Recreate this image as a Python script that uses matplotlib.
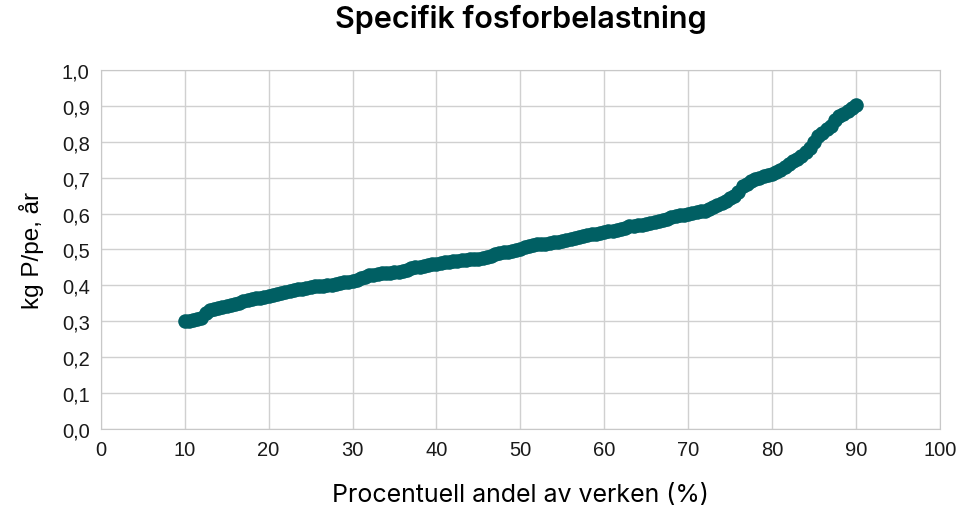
import matplotlib.pyplot as plt

# --------- DATA ---------
andel = [10 + 0.5 * i for i in range(161)]
belastning = [
    0.300, 0.300, 0.302, 0.305, 0.310, 0.322, 0.330, 0.333, 0.337, 0.340,
    0.343, 0.346, 0.349, 0.352, 0.355, 0.358, 0.361, 0.364, 0.366, 0.368,
    0.370, 0.372, 0.375, 0.378, 0.381, 0.384, 0.387, 0.389, 0.391, 0.393,
    0.395, 0.397, 0.398, 0.399, 0.400, 0.402, 0.404, 0.406, 0.408, 0.410,
    0.413, 0.416, 0.420, 0.424, 0.428, 0.430, 0.432, 0.433, 0.434, 0.435,
    0.436, 0.438, 0.441, 0.444, 0.447, 0.450, 0.452, 0.454, 0.456, 0.458,
    0.460, 0.462, 0.464, 0.466, 0.468, 0.469, 0.470, 0.471, 0.472, 0.473,
    0.474, 0.476, 0.478, 0.483, 0.488, 0.490, 0.492, 0.494, 0.496, 0.499,
    0.502, 0.506, 0.510, 0.512, 0.514, 0.515, 0.516, 0.518, 0.520, 0.522,
    0.524, 0.526, 0.528, 0.531, 0.534, 0.537, 0.540, 0.542, 0.544, 0.546,
    0.548, 0.550, 0.552, 0.555, 0.558, 0.561, 0.564, 0.566, 0.568, 0.569,
    0.571, 0.574, 0.577, 0.580, 0.583, 0.586, 0.589, 0.592, 0.595, 0.597,
    0.600, 0.602, 0.604, 0.606, 0.608, 0.613, 0.618, 0.624, 0.630, 0.636,
    0.642, 0.650, 0.660, 0.676, 0.683, 0.690, 0.695, 0.700, 0.704, 0.707,
    0.710, 0.716, 0.722, 0.730, 0.738, 0.745, 0.752, 0.760, 0.770, 0.782,
    0.800, 0.815, 0.825, 0.835, 0.845, 0.860, 0.872, 0.878, 0.885, 0.895,
    0.902,
]
yticks = [i / 10 for i in range(11)]
xticks = list(range(0, 101, 10))

# --------- PLOT ---------
fig = plt.figure(figsize=(9.6, 5.1), dpi=100)
ax = fig.add_axes([0.105, 0.157, 0.874, 0.704])

ax.scatter(andel, belastning, s=110, color="#005f63", zorder=3, linewidths=0)

ax.set_xlim(0, 100)
ax.set_ylim(0, 1.0)
ax.set_xticks(xticks)
ax.set_yticks(yticks)
ax.set_yticklabels([f"{v:.1f}".replace(".", ",") for v in yticks])
ax.grid(True, color="#d0d0d0", linewidth=1)
ax.set_axisbelow(True)
ax.tick_params(length=0, labelsize=14.5, pad=8, labelcolor="#1a1a1a")
for lab in ax.get_xticklabels() + ax.get_yticklabels():
    lab.set_family("Liberation Sans")
for sp in ax.spines.values():
    sp.set_color("#c8c8c8")

ax.set_ylabel("kg P/pe, år", fontsize=17.5, family="Liberation Sans", labelpad=13)
ax.set_xlabel("Procentuell andel av verken (%)", fontsize=18, family="Inter", labelpad=17)
fig.suptitle("Specifik fosforbelastning", x=0.543, y=0.99, fontsize=22,
             fontweight="semibold", family="Inter")

plt.savefig("out.png", dpi=100)
plt.close()
